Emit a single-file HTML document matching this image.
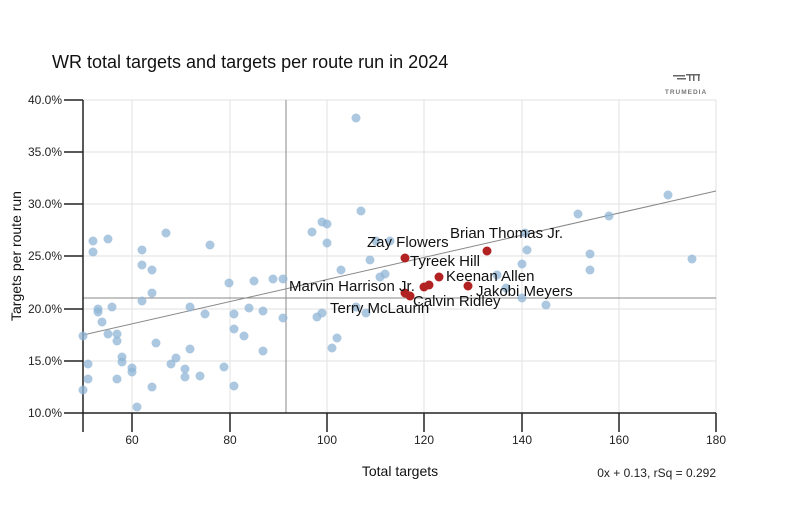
<!DOCTYPE html>
<html><head><meta charset="utf-8"><style>
body{margin:0;background:#fff;}
svg text{font-family:"Liberation Sans",sans-serif;}
</style></head><body>
<svg width="800" height="500" viewBox="0 0 800 500" xmlns="http://www.w3.org/2000/svg">
<rect width="800" height="500" fill="#fff"/>
<text x="52" y="68" font-size="18" fill="#111">WR total targets and targets per route run in 2024</text>
<g fill="#666"><rect x="673" y="75" width="12" height="1.5"/><rect x="677" y="78" width="9" height="1.5"/><rect x="686" y="74" width="14" height="1.5"/><rect x="689" y="74" width="1.5" height="7"/><rect x="693" y="74" width="1.5" height="7"/><rect x="698" y="74" width="1.5" height="7"/></g>
<text x="686" y="94" font-size="6.5" fill="#777" text-anchor="middle" letter-spacing="1" font-weight="bold">TRUMEDIA</text>
<g stroke="#e2e2e2" stroke-width="1">
<line x1="83" y1="100" x2="716" y2="100"/><line x1="83" y1="152" x2="716" y2="152"/><line x1="83" y1="204" x2="716" y2="204"/><line x1="83" y1="256" x2="716" y2="256"/><line x1="83" y1="309" x2="716" y2="309"/><line x1="83" y1="361" x2="716" y2="361"/>
<line x1="132" y1="100" x2="132" y2="413"/><line x1="230" y1="100" x2="230" y2="413"/><line x1="327" y1="100" x2="327" y2="413"/><line x1="424" y1="100" x2="424" y2="413"/><line x1="522" y1="100" x2="522" y2="413"/><line x1="619" y1="100" x2="619" y2="413"/><line x1="716" y1="100" x2="716" y2="413"/>
</g>
<line x1="286" y1="100" x2="286" y2="413" stroke="#888"/>
<line x1="83" y1="298" x2="716" y2="298" stroke="#888"/>
<line x1="83" y1="335" x2="716" y2="191" stroke="#888"/>
<g stroke="#222" stroke-width="1.5">
<line x1="83" y1="100" x2="83" y2="432"/><line x1="64" y1="413" x2="716" y2="413"/>
<line x1="64" y1="100" x2="83" y2="100"/><line x1="64" y1="152" x2="83" y2="152"/><line x1="64" y1="204" x2="83" y2="204"/><line x1="64" y1="256" x2="83" y2="256"/><line x1="64" y1="309" x2="83" y2="309"/><line x1="64" y1="361" x2="83" y2="361"/>
<line x1="132" y1="413" x2="132" y2="432"/><line x1="230" y1="413" x2="230" y2="432"/><line x1="327" y1="413" x2="327" y2="432"/><line x1="424" y1="413" x2="424" y2="432"/><line x1="522" y1="413" x2="522" y2="432"/><line x1="619" y1="413" x2="619" y2="432"/><line x1="716" y1="413" x2="716" y2="432"/>
</g>
<g font-size="12" fill="#222" text-anchor="end">
<text x="62" y="104">40.0%</text><text x="62" y="156">35.0%</text><text x="62" y="208">30.0%</text><text x="62" y="260">25.0%</text><text x="62" y="313">20.0%</text><text x="62" y="365">15.0%</text><text x="62" y="417">10.0%</text>
</g>
<g font-size="12" fill="#222" text-anchor="middle">
<text x="132" y="444">60</text><text x="230" y="444">80</text><text x="327" y="444">100</text><text x="424" y="444">120</text><text x="522" y="444">140</text><text x="619" y="444">160</text><text x="716" y="444">180</text>
</g>
<text x="400" y="476" font-size="14" fill="#111" text-anchor="middle">Total targets</text>
<text x="716" y="477" font-size="12" fill="#222" text-anchor="end">0x + 0.13, rSq = 0.292</text>
<text transform="translate(21,256) rotate(-90)" font-size="14" fill="#111" text-anchor="middle">Targets per route run</text>
<g fill="#8fb5d6" fill-opacity="0.75">
<circle cx="83" cy="336" r="4.5"/><circle cx="93" cy="241" r="4.5"/><circle cx="93" cy="252" r="4.5"/><circle cx="108" cy="239" r="4.5"/><circle cx="98" cy="309" r="4.5"/><circle cx="98" cy="312" r="4.5"/><circle cx="102" cy="322" r="4.5"/><circle cx="112" cy="307" r="4.5"/><circle cx="108" cy="334" r="4.5"/><circle cx="117" cy="334" r="4.5"/><circle cx="117" cy="341" r="4.5"/><circle cx="88" cy="364" r="4.5"/><circle cx="88" cy="379" r="4.5"/><circle cx="83" cy="390" r="4.5"/><circle cx="122" cy="357" r="4.5"/><circle cx="122" cy="362" r="4.5"/><circle cx="117" cy="379" r="4.5"/><circle cx="132" cy="368" r="4.5"/><circle cx="132" cy="372" r="4.5"/><circle cx="137" cy="407" r="4.5"/><circle cx="142" cy="250" r="4.5"/><circle cx="142" cy="265" r="4.5"/><circle cx="152" cy="270" r="4.5"/><circle cx="152" cy="293" r="4.5"/><circle cx="142" cy="301" r="4.5"/><circle cx="156" cy="343" r="4.5"/><circle cx="152" cy="387" r="4.5"/><circle cx="166" cy="233" r="4.5"/><circle cx="171" cy="364" r="4.5"/><circle cx="176" cy="358" r="4.5"/><circle cx="185" cy="369" r="4.5"/><circle cx="185" cy="377" r="4.5"/><circle cx="190" cy="307" r="4.5"/><circle cx="190" cy="349" r="4.5"/><circle cx="200" cy="376" r="4.5"/><circle cx="205" cy="314" r="4.5"/><circle cx="210" cy="245" r="4.5"/><circle cx="224" cy="367" r="4.5"/><circle cx="229" cy="283" r="4.5"/><circle cx="234" cy="314" r="4.5"/><circle cx="234" cy="329" r="4.5"/><circle cx="234" cy="386" r="4.5"/><circle cx="244" cy="336" r="4.5"/><circle cx="249" cy="308" r="4.5"/><circle cx="254" cy="281" r="4.5"/><circle cx="263" cy="311" r="4.5"/><circle cx="263" cy="351" r="4.5"/><circle cx="273" cy="279" r="4.5"/><circle cx="283" cy="279" r="4.5"/><circle cx="283" cy="318" r="4.5"/><circle cx="312" cy="232" r="4.5"/><circle cx="322" cy="222" r="4.5"/><circle cx="327" cy="224" r="4.5"/><circle cx="327" cy="243" r="4.5"/><circle cx="317" cy="317" r="4.5"/><circle cx="322" cy="313" r="4.5"/><circle cx="332" cy="348" r="4.5"/><circle cx="337" cy="338" r="4.5"/><circle cx="341" cy="270" r="4.5"/><circle cx="356" cy="118" r="4.5"/><circle cx="361" cy="211" r="4.5"/><circle cx="370" cy="260" r="4.5"/><circle cx="380" cy="277" r="4.5"/><circle cx="385" cy="274" r="4.5"/><circle cx="390" cy="241" r="4.5"/><circle cx="376" cy="241" r="4.5"/><circle cx="356" cy="307" r="4.5"/><circle cx="366" cy="313" r="4.5"/><circle cx="525" cy="233" r="4.5"/><circle cx="527" cy="250" r="4.5"/><circle cx="522" cy="264" r="4.5"/><circle cx="497" cy="275" r="4.5"/><circle cx="506" cy="288" r="4.5"/><circle cx="522" cy="298" r="4.5"/><circle cx="546" cy="305" r="4.5"/><circle cx="578" cy="214" r="4.5"/><circle cx="609" cy="216" r="4.5"/><circle cx="668" cy="195" r="4.5"/><circle cx="590" cy="254" r="4.5"/><circle cx="590" cy="270" r="4.5"/><circle cx="692" cy="259" r="4.5"/>
</g>
<g fill="#b22222">
<circle cx="405" cy="258" r="4.5"/><circle cx="487" cy="251" r="4.5"/><circle cx="439" cy="277" r="4.5"/><circle cx="468" cy="286" r="4.5"/><circle cx="424" cy="287" r="4.5"/><circle cx="429" cy="285" r="4.5"/><circle cx="405" cy="293" r="4.5"/><circle cx="410" cy="296" r="4.5"/>
</g>
<g font-size="15" fill="#111">
<text x="367" y="247">Zay Flowers</text>
<text x="450" y="238">Brian Thomas Jr.</text>
<text x="410" y="266">Tyreek Hill</text>
<text x="446" y="281">Keenan Allen</text>
<text x="476" y="296">Jakobi Meyers</text>
<text x="289" y="291">Marvin Harrison Jr.</text>
<text x="413" y="306">Calvin Ridley</text>
<text x="330" y="313">Terry McLaurin</text>
</g>
</svg>
</body></html>
